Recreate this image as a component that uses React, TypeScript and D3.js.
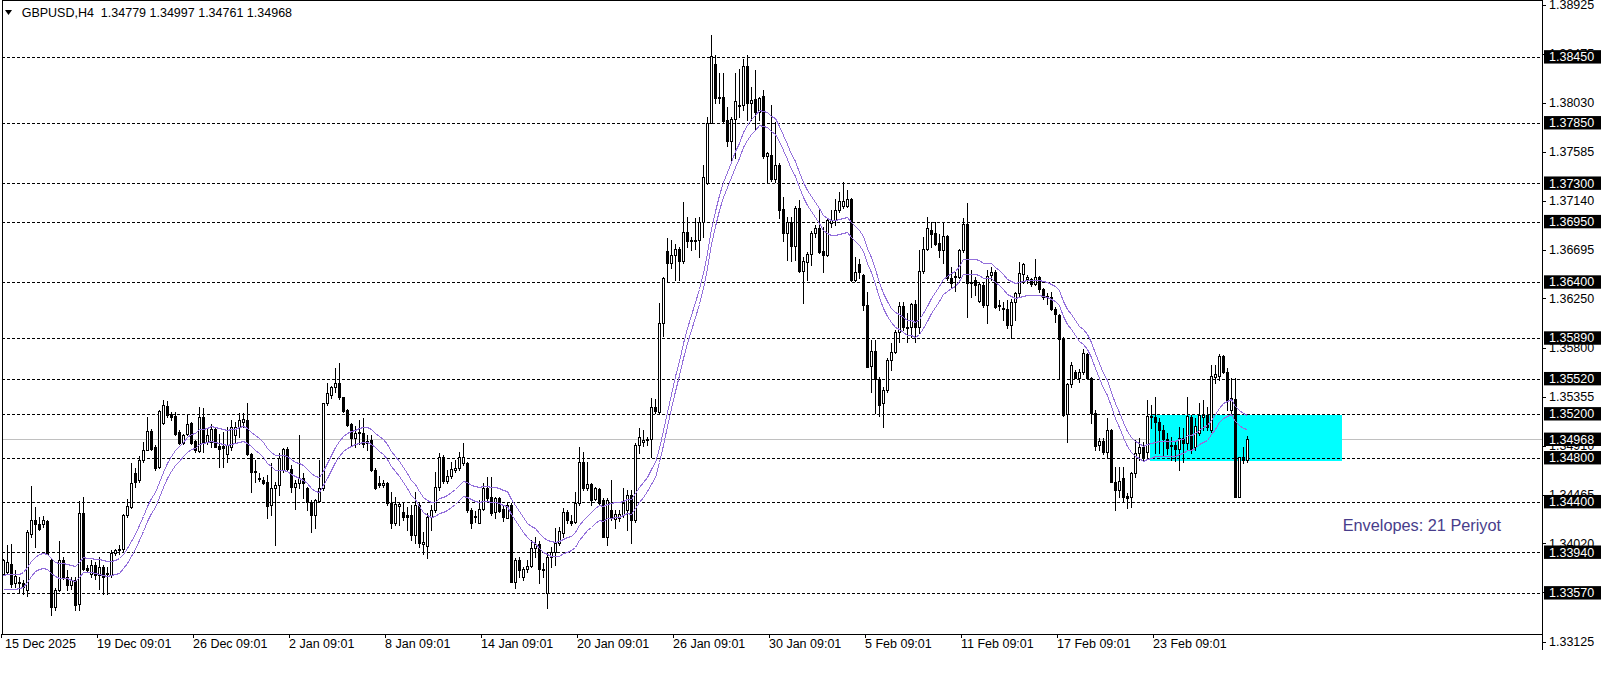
import React, { useEffect } from "react";
import * as d3 from "d3";

const W = 1606;
const H = 684;

// ---- OHLC data (GBPUSD H4), bar 0 .. 311 ----
const opens = [
  1.33744, 1.33759, 1.33829, 1.33659, 1.33668, 1.33659, 1.33592, 1.34108, 1.34235, 1.34199,
  1.34199, 1.34223, 1.33865, 1.3344, 1.33598, 1.33871, 1.33713, 1.33641, 1.33683, 1.33471,
  1.34299, 1.33795, 1.33744, 1.3382, 1.33729, 1.33805, 1.33738, 1.33735, 1.33932, 1.33956,
  1.33968, 1.34275, 1.34351, 1.3466, 1.34594, 1.34776, 1.34873, 1.3504, 1.34897, 1.34715,
  1.35116, 1.35267, 1.35201, 1.35176, 1.35034, 1.34934, 1.35019, 1.35116, 1.34949, 1.34858,
  1.3517, 1.34943, 1.34943, 1.35064, 1.34903, 1.34907, 1.34834, 1.349, 1.35006, 1.35076,
  1.35128, 1.35143, 1.34831, 1.34682, 1.34618, 1.34597, 1.34582, 1.34369, 1.34521, 1.34552,
  1.34688, 1.34879, 1.34694, 1.3453, 1.34573, 1.34618, 1.34521, 1.344, 1.34278, 1.34409,
  1.34521, 1.35295, 1.35371, 1.35446, 1.35477, 1.3535, 1.35234, 1.35107, 1.34976, 1.35022,
  1.35028, 1.34937, 1.34961, 1.34688, 1.34567, 1.34552, 1.34567, 1.34384, 1.34202, 1.3436,
  1.34309, 1.34278, 1.34278, 1.34096, 1.34369, 1.34015, 1.33996, 1.34257, 1.34324, 1.34536,
  1.34803, 1.34591, 1.34633, 1.34688, 1.34703, 1.34749, 1.34755, 1.34324, 1.34263, 1.34207,
  1.34333, 1.34527, 1.34439, 1.34309, 1.3443, 1.3433, 1.34254, 1.34369, 1.33671, 1.33868,
  1.33717, 1.33784, 1.33814, 1.33975, 1.34014, 1.33784, 1.33565, 1.33899, 1.33944, 1.3402,
  1.34112, 1.34303, 1.34223, 1.34217, 1.34384, 1.34764, 1.34521, 1.34557, 1.34421, 1.34515,
  1.34415, 1.34081, 1.34324, 1.34239, 1.34248, 1.34278, 1.34324, 1.3446, 1.34233, 1.34916,
  1.34946, 1.34961, 1.34967, 1.35265, 1.35219, 1.36023, 1.36682, 1.36576, 1.36645, 1.36697,
  1.36594, 1.36852, 1.36779, 1.36776, 1.36782, 1.36949, 1.37298, 1.3785, 1.38382, 1.38071,
  1.38086, 1.37874, 1.37686, 1.3788, 1.38011, 1.38011, 1.38366, 1.38026, 1.38069, 1.3795,
  1.38091, 1.37547, 1.37556, 1.37334, 1.37465, 1.37061, 1.36849, 1.36949, 1.36727, 1.3707,
  1.36503, 1.36585, 1.36655, 1.36843, 1.36888, 1.36682, 1.36646, 1.3694, 1.36964, 1.37055,
  1.37091, 1.37091, 1.37152, 1.36418, 1.3656, 1.36463, 1.3619, 1.35635, 1.35774, 1.35513,
  1.35295, 1.35416, 1.35689, 1.35765, 1.35947, 1.36181, 1.35993, 1.35993, 1.36196, 1.35993,
  1.365, 1.36697, 1.36873, 1.36849, 1.36752, 1.36691, 1.36818, 1.36433, 1.36442, 1.36448,
  1.36691, 1.36928, 1.36403, 1.36418, 1.36229, 1.36372, 1.3619, 1.36463, 1.36487, 1.36181,
  1.3616, 1.36151, 1.36008, 1.36221, 1.36303, 1.36473, 1.36424, 1.36427, 1.36378, 1.36442,
  1.36333, 1.36272, 1.36266, 1.36151, 1.36099, 1.35878, 1.35198, 1.35471, 1.35583, 1.35529,
  1.35577, 1.35744, 1.35529, 1.3521, 1.34916, 1.34955, 1.34855, 1.35052, 1.34582, 1.34506,
  1.34618, 1.34454, 1.34439, 1.34658, 1.3484, 1.34894, 1.34855, 1.3518, 1.35174, 1.35128,
  1.35052, 1.34967, 1.34906, 1.34916, 1.34876, 1.34976, 1.34931, 1.35174, 1.34894, 1.35022,
  1.35174, 1.35189, 1.35052, 1.35538, 1.35544, 1.35725, 1.35583, 1.35234, 1.35331, 1.34445,
  1.34809, 1.34779,
];
const highs = [
  1.3388, 1.34002, 1.34017, 1.33774, 1.33713, 1.33683, 1.34138, 1.34545, 1.34351, 1.3426,
  1.34266, 1.34229, 1.3388, 1.33616, 1.34041, 1.33896, 1.33774, 1.33713, 1.33713, 1.34405,
  1.34442, 1.3382, 1.33865, 1.3385, 1.33896, 1.3382, 1.33805, 1.33956, 1.33971, 1.34002,
  1.3429, 1.34427, 1.34751, 1.34709, 1.34812, 1.34943, 1.3517, 1.35064, 1.34912, 1.35231,
  1.35328, 1.35316, 1.35216, 1.35216, 1.35049, 1.35019, 1.35201, 1.35125, 1.34958, 1.35261,
  1.35255, 1.35064, 1.3511, 1.35079, 1.35019, 1.35037, 1.35083, 1.35143, 1.35128, 1.3521,
  1.3521, 1.35295, 1.3484, 1.34779, 1.34658, 1.34627, 1.34643, 1.34749, 1.34582, 1.3484,
  1.34885, 1.349, 1.34733, 1.34597, 1.35006, 1.34658, 1.34536, 1.34415, 1.34421, 1.34779,
  1.35301, 1.35477, 1.35453, 1.35614, 1.35659, 1.35356, 1.3524, 1.35113, 1.35089, 1.35143,
  1.35158, 1.35006, 1.35006, 1.34703, 1.34633, 1.34597, 1.34582, 1.34491, 1.34445, 1.344,
  1.344, 1.34354, 1.34369, 1.34491, 1.344, 1.34127, 1.34294, 1.34369, 1.34673, 1.34846,
  1.34825, 1.34688, 1.34764, 1.34779, 1.34855, 1.34937, 1.34764, 1.34339, 1.34315, 1.34415,
  1.34567, 1.34627, 1.34627, 1.34439, 1.34445, 1.34369, 1.34384, 1.34384, 1.33884, 1.33899,
  1.33808, 1.33868, 1.34051, 1.34081, 1.34044, 1.33838, 1.33929, 1.3399, 1.34157, 1.34172,
  1.34339, 1.34324, 1.34278, 1.3449, 1.349, 1.34855, 1.34764, 1.34567, 1.34536, 1.34521,
  1.3443, 1.3443, 1.34597, 1.34324, 1.34324, 1.34521, 1.34506, 1.34506, 1.34931, 1.35067,
  1.35052, 1.34991, 1.3534, 1.35331, 1.36206, 1.36448, 1.36797, 1.36782, 1.36743, 1.36721,
  1.37131, 1.36994, 1.36812, 1.36979, 1.36994, 1.37465, 1.37905, 1.38649, 1.38467, 1.38299,
  1.38299, 1.37996, 1.37905, 1.38299, 1.38336, 1.38427, 1.38467, 1.38178, 1.3833, 1.38087,
  1.38148, 1.37587, 1.38014, 1.37859, 1.3748, 1.37171, 1.36994, 1.36994, 1.37091, 1.37146,
  1.36624, 1.36676, 1.36867, 1.36918, 1.37055, 1.36897, 1.36979, 1.37055, 1.37152, 1.37222,
  1.37313, 1.37237, 1.37161, 1.36624, 1.36606, 1.36472, 1.36311, 1.35872, 1.35872, 1.35537,
  1.35446, 1.35704, 1.35841, 1.35963, 1.36221, 1.36221, 1.36114, 1.36205, 1.36236, 1.36691,
  1.36812, 1.36988, 1.36949, 1.36949, 1.36836, 1.36934, 1.36827, 1.36539, 1.36494, 1.36697,
  1.36979, 1.37116, 1.36509, 1.36448, 1.36402, 1.36387, 1.36509, 1.36539, 1.36509, 1.36236,
  1.36221, 1.36236, 1.36242, 1.36311, 1.36585, 1.36576, 1.36463, 1.3644, 1.36606, 1.36454,
  1.36342, 1.36296, 1.36311, 1.36175, 1.36108, 1.35896, 1.35483, 1.35674, 1.35599, 1.35604,
  1.35787, 1.35756, 1.35538, 1.35234, 1.34976, 1.34976, 1.35158, 1.35058, 1.34718, 1.34718,
  1.34718, 1.34475, 1.34673, 1.34961, 1.34976, 1.34946, 1.35325, 1.3528, 1.35355, 1.35158,
  1.35098, 1.35022, 1.34991, 1.34946, 1.35083, 1.35067, 1.35355, 1.35189, 1.35158, 1.35295,
  1.35325, 1.35265, 1.35644, 1.35644, 1.35744, 1.35735, 1.35613, 1.35522, 1.35522, 1.34809,
  1.349, 1.34997,
];
const lows = [
  1.33729, 1.33744, 1.33622, 1.33622, 1.33577, 1.33562, 1.33537, 1.34078, 1.33987, 1.34138,
  1.34169, 1.3392, 1.33364, 1.3341, 1.33586, 1.33698, 1.33592, 1.33607, 1.3341, 1.3341,
  1.33774, 1.33759, 1.33713, 1.33698, 1.33607, 1.33562, 1.33562, 1.33713, 1.33911, 1.33926,
  1.33941, 1.3426, 1.34345, 1.34533, 1.34578, 1.34761, 1.34867, 1.34867, 1.34685, 1.34709,
  1.3511, 1.3517, 1.3514, 1.35003, 1.34927, 1.34927, 1.35003, 1.34927, 1.34852, 1.34852,
  1.34852, 1.34927, 1.34897, 1.34897, 1.34715, 1.34718, 1.34764, 1.3487, 1.34946, 1.34991,
  1.35083, 1.34825, 1.34491, 1.34582, 1.34591, 1.3456, 1.34248, 1.34278, 1.34006, 1.34461,
  1.34673, 1.34688, 1.34491, 1.3433, 1.34521, 1.3443, 1.34324, 1.34127, 1.34157, 1.344,
  1.34506, 1.3528, 1.35341, 1.35401, 1.35332, 1.35219, 1.35089, 1.34916, 1.349, 1.34925,
  1.349, 1.3487, 1.34682, 1.34512, 1.3453, 1.34536, 1.34369, 1.34157, 1.34187, 1.34187,
  1.34233, 1.34142, 1.34051, 1.34021, 1.3399, 1.33923, 1.33884, 1.34142, 1.34309, 1.34506,
  1.34573, 1.34567, 1.34612, 1.34673, 1.34688, 1.34734, 1.34309, 1.34157, 1.34217, 1.34202,
  1.34324, 1.34415, 1.34278, 1.34248, 1.34309, 1.34227, 1.34248, 1.33665, 1.33611, 1.33717,
  1.33686, 1.33762, 1.33808, 1.33899, 1.33656, 1.33717, 1.33428, 1.33808, 1.33823, 1.34005,
  1.34081, 1.34202, 1.34187, 1.34202, 1.34369, 1.34506, 1.34506, 1.34369, 1.34415, 1.34369,
  1.34076, 1.34005, 1.34233, 1.34157, 1.34227, 1.34263, 1.34142, 1.3402, 1.34218, 1.3484,
  1.34906, 1.34916, 1.34809, 1.35204, 1.35204, 1.35908, 1.36403, 1.36524, 1.36418, 1.36418,
  1.3657, 1.36721, 1.36691, 1.36697, 1.36624, 1.36812, 1.37292, 1.37844, 1.38026, 1.38026,
  1.37859, 1.37638, 1.37495, 1.37526, 1.37905, 1.37966, 1.37874, 1.37874, 1.37784, 1.37874,
  1.37526, 1.37298, 1.37322, 1.37313, 1.36979, 1.36776, 1.366, 1.36594, 1.366, 1.36494,
  1.36211, 1.36418, 1.36555, 1.36812, 1.36661, 1.36494, 1.36636, 1.36903, 1.36918, 1.3704,
  1.3707, 1.37079, 1.36412, 1.36412, 1.36433, 1.36144, 1.35623, 1.35401, 1.35204, 1.3518,
  1.35082, 1.35401, 1.35598, 1.3575, 1.35856, 1.35963, 1.35856, 1.35902, 1.35856, 1.35932,
  1.36478, 1.36691, 1.36721, 1.36737, 1.3663, 1.3657, 1.36418, 1.36342, 1.36321, 1.36433,
  1.36676, 1.36084, 1.3626, 1.36281, 1.3622, 1.36175, 1.36029, 1.36418, 1.3616, 1.36144,
  1.36057, 1.35978, 1.35887, 1.36054, 1.36266, 1.36388, 1.36388, 1.36363, 1.36369, 1.36311,
  1.36242, 1.36199, 1.36145, 1.36038, 1.35514, 1.35182, 1.34946, 1.35441, 1.35523, 1.35492,
  1.35562, 1.35523, 1.35113, 1.3487, 1.3487, 1.34834, 1.34809, 1.34576, 1.34324, 1.34445,
  1.344, 1.34339, 1.34354, 1.34627, 1.34779, 1.34773, 1.34794, 1.35067, 1.3484, 1.3484,
  1.34825, 1.34834, 1.34779, 1.34773, 1.34688, 1.34764, 1.3487, 1.34846, 1.3487, 1.35007,
  1.35052, 1.35052, 1.35037, 1.35477, 1.35508, 1.35574, 1.35234, 1.35204, 1.34439, 1.34439,
  1.34749, 1.34761,
];
const closes = [
  1.33865, 1.3385, 1.33653, 1.3372, 1.33656, 1.33622, 1.34123, 1.34235, 1.34199, 1.34154,
  1.34229, 1.33926, 1.3344, 1.33598, 1.33865, 1.33707, 1.33638, 1.33683, 1.33455, 1.34299,
  1.33789, 1.3378, 1.3382, 1.33729, 1.33805, 1.33713, 1.3375, 1.33932, 1.33956, 1.33968,
  1.34281, 1.34357, 1.34572, 1.34578, 1.34776, 1.34873, 1.3504, 1.34882, 1.34709, 1.35222,
  1.35283, 1.35192, 1.3517, 1.35019, 1.34934, 1.35003, 1.3511, 1.34934, 1.34873, 1.3517,
  1.34943, 1.35003, 1.35064, 1.34897, 1.34882, 1.34885, 1.34916, 1.35083, 1.35076, 1.35143,
  1.35149, 1.34834, 1.34673, 1.34673, 1.34603, 1.34573, 1.3436, 1.34521, 1.34552, 1.34794,
  1.34879, 1.34694, 1.3453, 1.34573, 1.34612, 1.34573, 1.344, 1.34278, 1.34415, 1.34527,
  1.35295, 1.35392, 1.35446, 1.35477, 1.35356, 1.35228, 1.35098, 1.34976, 1.35028, 1.35037,
  1.34925, 1.34955, 1.34688, 1.34527, 1.34552, 1.34567, 1.34384, 1.34202, 1.34378, 1.34378,
  1.34263, 1.34263, 1.34096, 1.34369, 1.34021, 1.3403, 1.34257, 1.34324, 1.34536, 1.34803,
  1.34591, 1.34633, 1.34697, 1.34703, 1.34809, 1.34809, 1.34324, 1.34202, 1.34269, 1.34333,
  1.34527, 1.3443, 1.343, 1.3443, 1.34318, 1.34263, 1.34369, 1.33671, 1.33868, 1.33777,
  1.33784, 1.33814, 1.33975, 1.34014, 1.33784, 1.33777, 1.33899, 1.33944, 1.3402, 1.34136,
  1.34303, 1.3423, 1.34208, 1.34384, 1.34764, 1.34521, 1.34557, 1.34415, 1.34521, 1.34384,
  1.34081, 1.34415, 1.34248, 1.34287, 1.34287, 1.34384, 1.3446, 1.34233, 1.34916, 1.34991,
  1.34961, 1.3497, 1.35265, 1.35228, 1.36023, 1.36439, 1.36576, 1.36645, 1.36697, 1.36594,
  1.36852, 1.36776, 1.36776, 1.36782, 1.36949, 1.37353, 1.3785, 1.38457, 1.38071, 1.38086,
  1.37868, 1.37686, 1.3788, 1.38047, 1.38002, 1.38366, 1.38032, 1.38056, 1.3795, 1.38071,
  1.37547, 1.37571, 1.37334, 1.37465, 1.37055, 1.36843, 1.36949, 1.36727, 1.3707, 1.36503,
  1.36591, 1.36655, 1.36843, 1.36888, 1.36676, 1.36646, 1.36964, 1.36964, 1.37055, 1.3714,
  1.3714, 1.37152, 1.36418, 1.36487, 1.36494, 1.3619, 1.35629, 1.35774, 1.35513, 1.3528,
  1.35416, 1.35689, 1.35765, 1.35947, 1.36181, 1.35993, 1.35978, 1.36196, 1.35993, 1.365,
  1.36697, 1.36888, 1.36836, 1.36746, 1.36691, 1.36818, 1.36433, 1.36387, 1.36454, 1.36691,
  1.36928, 1.36393, 1.36393, 1.36372, 1.36381, 1.3619, 1.36457, 1.36487, 1.36175, 1.3619,
  1.36151, 1.36008, 1.36221, 1.36303, 1.36479, 1.36564, 1.36448, 1.36378, 1.36442, 1.36333,
  1.36266, 1.3626, 1.36151, 1.36108, 1.35878, 1.35189, 1.35471, 1.35644, 1.35529, 1.35583,
  1.3575, 1.35529, 1.35204, 1.34906, 1.34952, 1.34855, 1.35052, 1.34582, 1.34506, 1.34588,
  1.34439, 1.34433, 1.34658, 1.3484, 1.34894, 1.34803, 1.3518, 1.35167, 1.35128, 1.35052,
  1.34967, 1.34885, 1.34916, 1.34876, 1.34976, 1.34931, 1.3518, 1.3487, 1.35088, 1.35189,
  1.35189, 1.35083, 1.35544, 1.35559, 1.35725, 1.35583, 1.35325, 1.3534, 1.34445, 1.34803,
  1.34779, 1.34968,
];

// Envelope centre line for the first 20 bars (the MA window starts before the chart)
const envWarmupMid = [
  1.33668, 1.33671, 1.33674, 1.33674, 1.33677, 1.33689, 1.33735, 1.33789, 1.33832, 1.33856,
  1.33862, 1.33856, 1.33817, 1.33786, 1.33774, 1.33774, 1.33768, 1.33756, 1.33744, 1.33783,
];
const envPeriod = 21;
const envDeviationPct = 0.05;

const levelPrices = [1.3845, 1.3785, 1.373, 1.3695, 1.364, 1.3589, 1.3552, 1.352, 1.348, 1.344, 1.3394, 1.3357];
const axisTicks = [1.38925, 1.38475, 1.3803, 1.37585, 1.3714, 1.36695, 1.3625, 1.358, 1.35355, 1.3491, 1.34465, 1.3402, 1.33575, 1.33125];
const bidPrice = 1.34968;
const dateLabels = [
  "15 Dec 2025", "19 Dec 09:01", "26 Dec 09:01", "2 Jan 09:01", "8 Jan 09:01", "14 Jan 09:01",
  "20 Jan 09:01", "26 Jan 09:01", "30 Jan 09:01", "5 Feb 09:01", "11 Feb 09:01", "17 Feb 09:01", "23 Feb 09:01",
];
const dateLabelBars = [0, 24, 48, 72, 96, 120, 144, 168, 192, 216, 240, 264, 288];
const zoneBars = [286.7, 334.7];
const zonePrices = [1.35189, 1.34773];
const titleText = "GBPUSD,H4  1.34779 1.34997 1.34761 1.34968";
const indicatorText = "Envelopes: 21 Periyot";

const FONT = "'Liberation Sans', Arial, sans-serif";

export default function App() {
  useEffect(() => {
    document.body.style.margin = "0";
  }, []);

  const n = closes.length;
  const plotLeft = 2;
  const plotRight = 1542;
  const plotTop = 0;
  const plotBottom = 634;

  const x = d3.scaleLinear().domain([0, n - 1]).range([3, 1247]);
  const y = d3.scaleLinear().domain([1.33125, 1.38925]).range([641.7, 4.7]);
  const ry = (p: number) => Math.round(y(p));

  const mid = closes.map((_, i) => {
    if (i < envPeriod - 1) return envWarmupMid[i];
    let s = 0;
    let w = 0;
    for (let k = 0; k < envPeriod; k++) {
      const wt = envPeriod - k;
      s += closes[i - k] * wt;
      w += wt;
    }
    return s / w;
  });
  const dev = envDeviationPct / 100;
  const line = d3
    .line<number>()
    .x((_, i) => x(i) + 0.5)
    .y((v) => Math.round(y(v)) + 0.5);
  const upperPath = line(mid.map((m) => m * (1 + dev))) || "";
  const lowerPath = line(mid.map((m) => m * (1 - dev))) || "";

  const candles = closes.map((c, i) => {
    const o = opens[i];
    const cx = Math.round(x(i));
    const yh = ry(highs[i]);
    const yl = ry(lows[i]);
    const top = ry(Math.max(o, c));
    const bot = ry(Math.min(o, c));
    const bull = c >= o;
    return (
      <g key={i}>
        <line x1={cx + 0.5} x2={cx + 0.5} y1={yh} y2={yl + 1} stroke="#000" strokeWidth={1} />
        {bull ? (
          bot - top >= 2 ? (
            <rect x={cx - 0.5} y={top + 0.5} width={2} height={bot - top} fill="#fff" stroke="#000" strokeWidth={1} />
          ) : (
            <rect x={cx - 1} y={top} width={3} height={Math.max(1, bot - top + 1)} fill="#000" />
          )
        ) : (
          <rect x={cx - 1} y={top} width={3} height={Math.max(1, bot - top + 1)} fill="#000" />
        )}
      </g>
    );
  });

  const zx0 = Math.round(x(zoneBars[0]));
  const zx1 = Math.round(x(zoneBars[1]));
  const zy0 = ry(zonePrices[0]);
  const zy1 = ry(zonePrices[1]);

  return (
    <svg
      width={W}
      height={H}
      viewBox={`0 0 ${W} ${H}`}
      style={{ position: "absolute", left: 0, top: 0, background: "#fff" }}
      fontFamily={FONT}
    >
      <rect x={0} y={0} width={W} height={H} fill="#fff" />

      {/* bid line */}
      <line x1={plotLeft} x2={plotRight} y1={ry(bidPrice) + 0.5} y2={ry(bidPrice) + 0.5} stroke="#c0c0c0" strokeWidth={1} shapeRendering="crispEdges" />

      {/* zone rectangle */}
      <rect x={zx0} y={zy0} width={zx1 - zx0} height={zy1 - zy0} fill="#00ffff" />

      {/* horizontal level lines */}
      {levelPrices.map((p) => (
        <line
          key={"l" + p}
          x1={plotLeft}
          x2={plotRight}
          y1={ry(p) + 0.5}
          y2={ry(p) + 0.5}
          stroke="#000"
          strokeWidth={1}
          strokeDasharray="3,2"
          shapeRendering="crispEdges"
        />
      ))}

      <g shapeRendering="crispEdges">{candles}</g>

      {/* envelopes */}
      <path d={upperPath} fill="none" stroke="#9370db" strokeWidth={1} shapeRendering="crispEdges" />
      <path d={lowerPath} fill="none" stroke="#9370db" strokeWidth={1} shapeRendering="crispEdges" />

      {/* frame */}
      <g shapeRendering="crispEdges">
        <line x1={plotLeft + 0.5} x2={plotLeft + 0.5} y1={plotTop} y2={plotBottom} stroke="#000" />
        <line x1={plotLeft} x2={plotRight} y1={plotTop + 0.5} y2={plotTop + 0.5} stroke="#000" />
        <line x1={plotRight + 0.5} x2={plotRight + 0.5} y1={plotTop} y2={650} stroke="#000" />
        <line x1={plotLeft} x2={plotRight} y1={plotBottom + 0.5} y2={plotBottom + 0.5} stroke="#000" />
      </g>

      {/* price axis ticks */}
      {axisTicks.map((t) => (
        <g key={"t" + t}>
          <line x1={plotRight} x2={plotRight + 4} y1={ry(t) + 0.5} y2={ry(t) + 0.5} stroke="#000" shapeRendering="crispEdges" />
          <text x={1549} y={y(t)} dy="0.35em" fontSize={12.5} fill="#000">
            {t.toFixed(5)}
          </text>
        </g>
      ))}

      {/* labelled levels */}
      {[...levelPrices, bidPrice].map((p) => (
        <g key={"b" + p}>
          <rect x={1544} y={y(p) - 6.7} width={57} height={13.4} fill="#000" />
          <text x={1549} y={y(p)} dy="0.35em" fontSize={12.5} fill="#fff">
            {p.toFixed(5)}
          </text>
        </g>
      ))}

      {/* date labels */}
      {dateLabels.map((d, k) => (
        <g key={"d" + k}>
          <line x1={Math.round(x(dateLabelBars[k])) - 1.5} x2={Math.round(x(dateLabelBars[k])) - 1.5} y1={plotBottom} y2={plotBottom + 4} stroke="#000" shapeRendering="crispEdges" />
          <text x={Math.max(5, Math.round(x(dateLabelBars[k])) - 2)} y={648} fontSize={12.5} fill="#000">
            {d}
          </text>
        </g>
      ))}

      {/* title */}
      <path d="M5,10 L12,10 L8.5,15 Z" fill="#000" />
      <text x={21.7} y={17.4} fontSize={12.5} fill="#000" style={{ whiteSpace: "pre" }}>
        {titleText}
      </text>

      <text x={1342.7} y={530.7} fontSize={16.3} fill="#483d8b">
        {indicatorText}
      </text>
    </svg>
  );
}
